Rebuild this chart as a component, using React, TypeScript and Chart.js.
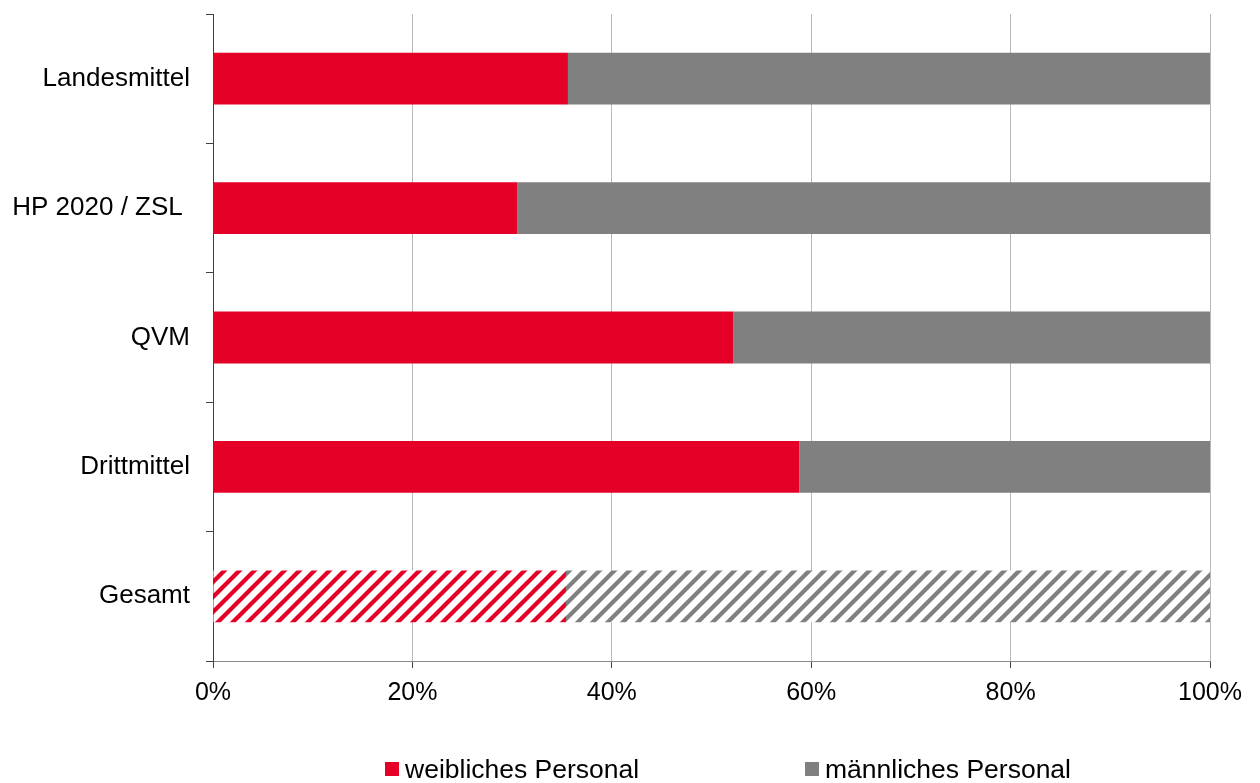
import React, { useEffect, useRef } from "react";
import { Chart, registerables } from "chart.js";

Chart.register(...registerables);

const categories = ["Landesmittel", "HP 2020 / ZSL ", "QVM", "Drittmittel", "Gesamt"];
const femaleValues = [35.6, 30.5, 52.2, 58.8, 35.4];
const maleValues = [64.4, 69.5, 47.8, 41.2, 64.6];
const seriesLabels = ["weibliches Personal", "männliches Personal"];
const xTicks = [0, 20, 40, 60, 80, 100];

const RED = "#e50027";
const GRAY = "#808080";
const FONT = "'Liberation Sans', Arial, sans-serif";

function makeHatch(color: string): CanvasPattern | string {
  const s = 15;
  const c = document.createElement("canvas");
  c.width = s;
  c.height = s;
  const ctx = c.getContext("2d");
  if (!ctx) return color;
  ctx.fillStyle = "#ffffff";
  ctx.fillRect(0, 0, s, s);
  ctx.strokeStyle = color;
  ctx.lineWidth = 4.3;
  for (const o of [-s, 0, s]) {
    ctx.beginPath();
    ctx.moveTo(o - 2, s + 2);
    ctx.lineTo(o + s + 2, -2);
    ctx.stroke();
  }
  const p = ctx.createPattern(c, "repeat");
  return p || color;
}

const legendPlugin = {
  id: "customLegend",
  afterDraw(chart: any) {
    const ctx = chart.ctx;
    const items = [
      { label: seriesLabels[0], color: RED, x: 385 },
      { label: seriesLabels[1], color: GRAY, x: 805 },
    ];
    const y = 769;
    ctx.save();
    ctx.font = `26.5px ${FONT}`;
    ctx.textBaseline = "middle";
    ctx.textAlign = "left";
    for (const it of items) {
      ctx.fillStyle = it.color;
      ctx.fillRect(it.x, y - 7, 14, 14);
      ctx.fillStyle = "#000";
      ctx.fillText(it.label, it.x + 20, y + 2);
    }
    ctx.restore();
  },
};

export default function App() {
  const ref = useRef<HTMLCanvasElement>(null);
  useEffect(() => {
    document.body.style.margin = "0";
    if (!ref.current) return;
    const redHatch = makeHatch(RED);
    const grayHatch = makeHatch(GRAY);
    const femaleColors = categories.map((c, i) => (i === categories.length - 1 ? redHatch : RED));
    const maleColors = categories.map((c, i) => (i === categories.length - 1 ? grayHatch : GRAY));
    const chart = new Chart(ref.current, {
      type: "bar",
      data: {
        labels: categories,
        datasets: [
          {
            label: seriesLabels[0],
            data: femaleValues,
            backgroundColor: femaleColors as any,
            borderWidth: 0,
            barPercentage: 0.4,
            categoryPercentage: 1,
          },
          {
            label: seriesLabels[1],
            data: maleValues,
            backgroundColor: maleColors as any,
            borderWidth: 0,
            barPercentage: 0.4,
            categoryPercentage: 1,
          },
        ],
      },
      options: {
        indexAxis: "y",
        responsive: false,
        animation: false,
        layout: { padding: { top: 14, right: 50, left: 0, bottom: 0 } },
        plugins: {
          legend: { display: false },
          tooltip: { enabled: false },
        },
        scales: {
          x: {
            stacked: true,
            min: 0,
            max: 100,
            afterBuildTicks(scale: any) {
              scale.ticks = xTicks.map((v) => ({ value: v }));
            },
            afterFit(scale: any) {
              scale.height = 122;
              scale.paddingLeft = 0;
              scale.paddingRight = 0;
            },
            ticks: {
              callback: (v: any) => `${v}%`,
              font: { family: FONT, size: 25 },
              color: "#000",
              padding: 10,
              maxRotation: 0,
            },
            grid: {
              color: "#b8b8b8",
              tickColor: "#404040",
              tickLength: 7,
              lineWidth: 1,
            },
            border: { display: true, color: "#888888", width: 1 },
          },
          y: {
            stacked: true,
            afterFit(scale: any) {
              scale.width = 213;
              scale.paddingTop = 0;
              scale.paddingBottom = 0;
            },
            ticks: {
              font: { family: FONT, size: 26 },
              color: "#000",
              padding: 16,
            },
            grid: {
              offset: true,
              drawOnChartArea: false,
              color: "#404040",
              tickLength: 7,
            },
            border: { display: true, color: "#404040", width: 1 },
          },
        },
      },
      plugins: [legendPlugin],
    });
    return () => chart.destroy();
  }, []);
  return (
    <div style={{ width: 1260, height: 783, position: "relative" }}>
      <canvas ref={ref} width={1260} height={783} style={{ display: "block" }} />
    </div>
  );
}
